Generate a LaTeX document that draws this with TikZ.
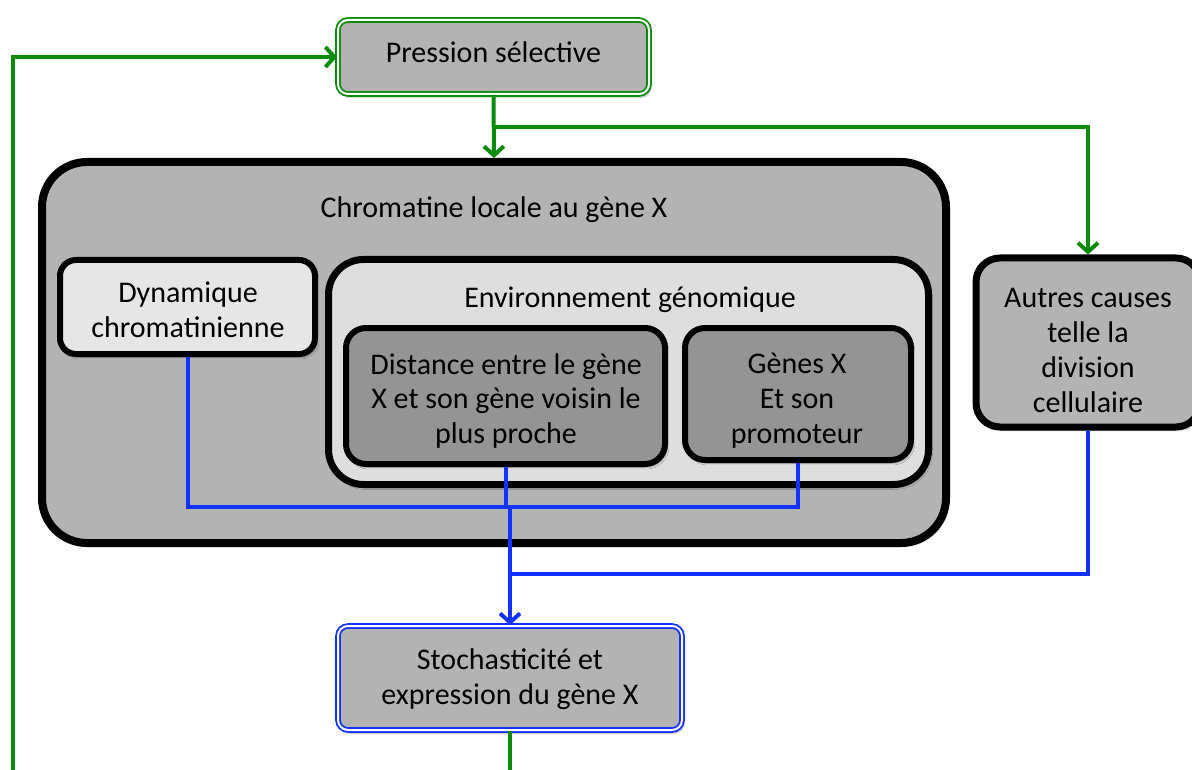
\documentclass[tikz,border=0pt]{standalone}
\usepackage{fontspec}
\setmainfont{Carlito}
\usetikzlibrary{arrows.meta,shadows.blur}
\definecolor{boxgray}{RGB}{179,179,179}
\definecolor{lightgray}{RGB}{230,230,230}
\definecolor{envgray}{RGB}{222,222,222}
\definecolor{darkgray}{RGB}{148,148,148}
\definecolor{linkgreen}{RGB}{10,140,10}
\definecolor{linkblue}{RGB}{20,50,255}
\tikzset{
  every node/.style={font=\fontsize{30}{35}\selectfont, align=center, inner sep=0pt},
  shade/.style={blur shadow={shadow xshift=2pt, shadow yshift=-3pt, shadow opacity=35, shadow blur steps=6}},
  blackbox/.style={draw=black, shade},
  dblbox/.style={fill=boxgray, double=white, double distance=2pt, line width=1.8pt, rounded corners=10pt, shade},
  greenlink/.style={draw=linkgreen, line width=4pt},
  bluelink/.style={draw=linkblue, line width=4pt},
  tip/.style={-{Straight Barb[length=9pt,width=20pt,line width=4pt]}},
}
\begin{document}
\begin{tikzpicture}[x=1pt,y=-1pt]
\useasboundingbox (0,0) rectangle (1192,770);

% top and bottom boxes with double borders
\node[dblbox, draw=linkgreen, minimum width=311pt, minimum height=74pt] (pres) at (493.5,57) {};
\node[anchor=base] (pres-t) at (493.5,63) {Pression sélective};
\node[dblbox, draw=linkblue, minimum width=344pt, minimum height=104pt] (stoch) at (510,678) {};
\node (stoch-t) at (510,679.5) {Stochasticité et\\expression du gène X};

% chromatin container and its parts
\node[blackbox, fill=boxgray, line width=8pt, rounded corners=45pt, minimum width=904pt, minimum height=381pt] (chrom) at (494,352.5) {};
\node[anchor=base] (chrom-t) at (494,218) {Chromatine locale au gène X};
\node[blackbox, fill=lightgray, line width=6pt, rounded corners=16pt, minimum width=255pt, minimum height=94pt] (dyn) at (187.5,307) {};
\node (dyn-t) at (188,310) {Dynamique\\chromatinienne};
\node[blackbox, fill=envgray, line width=7pt, rounded corners=35pt, minimum width=600pt, minimum height=225pt] (env) at (628.5,372) {};
\node[anchor=base] (env-t) at (630,308) {Environnement génomique};
\node[blackbox, fill=darkgray, line width=6pt, rounded corners=20pt, minimum width=319pt, minimum height=136pt] (dist) at (505.5,396) {};
\node (dist-t) at (506,401) {Distance entre le gène\\X et son gène voisin le\\plus proche};
\node[blackbox, fill=darkgray, line width=6pt, rounded corners=20pt, minimum width=226pt, minimum height=132pt] (genes) at (798,394) {};
\node (genes-t) at (797,401) {Gènes X\\Et son\\promoteur};

% other causes
\node[blackbox, fill=boxgray, line width=7pt, rounded corners=24pt, minimum width=224pt, minimum height=169pt] (autres) at (1088,342.5) {};
\node (autres-t) at (1088,350) {Autres causes\\telle la\\division\\cellulaire};

% helper points
\coordinate (loopstart) at (13,775);
\coordinate (branch) at (493.5,127);
\coordinate (busy) at (0,507);
\coordinate (lowy) at (0,574);
\coordinate (stochout) at (510,775);

% green feedback links
\draw[greenlink, tip] (loopstart) |- (pres.west);
\draw[greenlink, tip] (pres.south) -- (chrom.north);
\draw[greenlink, tip] (branch) -| (autres.north);
\draw[greenlink] (stoch.south) -- (stochout);

% blue influence links
\draw[bluelink] (dyn.south) -- (dyn.south |- busy) -| (genes.south);
\draw[bluelink] (dist.south) -- (dist.south |- busy);
\draw[bluelink, tip] (stoch.north |- busy) -- (stoch.north);
\draw[bluelink] (autres.south) |- (stoch.north |- lowy);
\end{tikzpicture}
\end{document}
